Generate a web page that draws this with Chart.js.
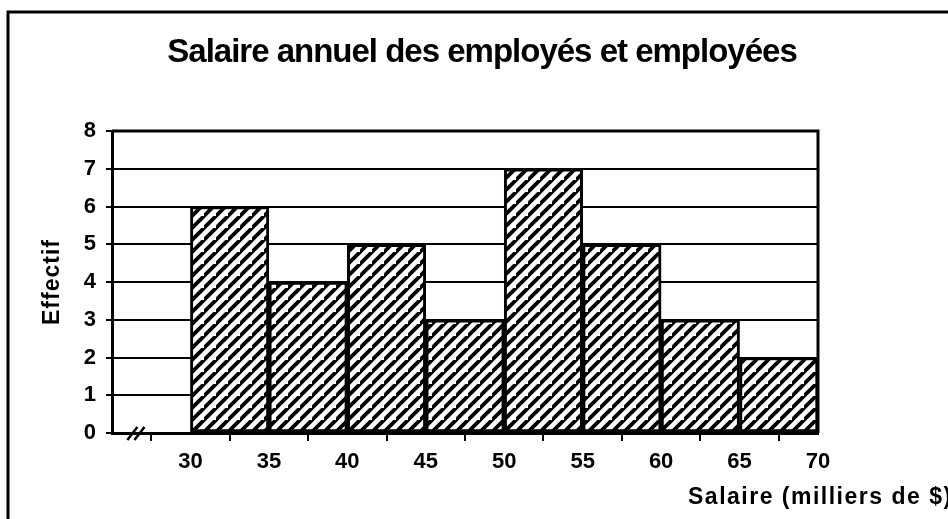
<!DOCTYPE html>
<html>
<head>
<meta charset="utf-8">
<script src="https://cdn.jsdelivr.net/npm/chart.js@4.4.1/dist/chart.umd.min.js"></script>
<style>
  html, body { margin: 0; padding: 0; background: #fff; }
  #wrap { width: 948px; height: 519px; position: relative; }
</style>
</head>
<body>
<div id="wrap"><canvas id="chartSalaire" width="948" height="519"></canvas></div>
<script>
// Données
const titre = 'Salaire annuel des employés et employées';
const titreY = 'Effectif';
const titreX = 'Salaire (milliers de $)';
const classesDebut = [30, 35, 40, 45, 50, 55, 60, 65];
const classesFin = [35, 40, 45, 50, 55, 60, 65, 70];
const effectifs = [6, 4, 5, 3, 7, 5, 3, 2];
const ticksX = [30, 35, 40, 45, 50, 55, 60, 65, 70];

const FONT = 'Liberation Sans, Arial, sans-serif';

// Motif hachuré (diagonales /)
function makeHatch() {
    const s = 12;
    const c = document.createElement('canvas');
    c.width = s; c.height = s;
    const g = c.getContext('2d');
    g.fillStyle = '#fff';
    g.fillRect(0, 0, s, s);
    g.strokeStyle = '#000';
    g.lineWidth = 3.8;
    g.beginPath();
    g.moveTo(-3, s + 3); g.lineTo(s + 3, -3);
    g.moveTo(-3 - s, s + 3); g.lineTo(3, -3);
    g.moveTo(s - 3, 2 * s + 3); g.lineTo(2 * s + 3, s - 3);
    g.stroke();
    return g.createPattern(c, 'repeat');
}

// Titre, cadre, bordure de la zone, coupure d'axe et titres d'axes
const decorPlugin = {
    id: 'decor',
    afterDraw(chart) {
        const ctx = chart.ctx;
        const a = chart.chartArea;
        const x = chart.scales.x;
        ctx.save();
        // cadre extérieur
        ctx.strokeStyle = '#000';
        ctx.lineWidth = 3;
        ctx.beginPath();
        ctx.moveTo(8, 519); ctx.lineTo(8, 12); ctx.lineTo(948, 12);
        ctx.stroke();
        // bordure haut / droite de la zone de tracé
        ctx.beginPath();
        ctx.moveTo(a.left, a.top); ctx.lineTo(a.right, a.top); ctx.lineTo(a.right, a.bottom);
        ctx.stroke();
        // coupure d'axe //
        ctx.lineWidth = 2.5;
        ctx.beginPath();
        [26.3, 26.75].forEach(v => {
            const p = x.getPixelForValue(v);
            ctx.moveTo(p - 5, a.bottom + 7); ctx.lineTo(p + 5, a.bottom - 6);
        });
        ctx.stroke();
        // titre principal
        ctx.fillStyle = '#000';
        ctx.letterSpacing = '-1px';
        ctx.font = 'bold 33px ' + FONT;
        ctx.textAlign = 'center';
        ctx.textBaseline = 'alphabetic';
        ctx.fillText(titre, 482, 62);
        // titres d'axes
        ctx.letterSpacing = '1.5px';
        ctx.font = 'bold 23px ' + FONT;
        ctx.textBaseline = 'middle';
        ctx.textAlign = 'left';
        ctx.fillText(titreX, 688, 498);
        ctx.letterSpacing = '1px';
        ctx.translate(53, 282);
        ctx.rotate(-Math.PI / 2);
        ctx.textAlign = 'center';
        ctx.fillText(titreY, 0, 0);
        ctx.restore();
    }
};

const ctx = document.getElementById('chartSalaire').getContext('2d');
const hatch = makeHatch();

new Chart(ctx, {
    type: 'bar',
    data: {
        datasets: [{
            data: effectifs.map((v, i) => ({ x: (classesDebut[i] + classesFin[i]) / 2, y: v })),
            backgroundColor: hatch,
            borderColor: '#000',
            borderWidth: 3,
            borderSkipped: false,
            barPercentage: 1,
            categoryPercentage: 1
        }]
    },
    options: {
        responsive: false,
        animation: false,
        events: [],
        layout: { padding: { left: 0, right: 130, top: 131, bottom: 0 } },
        plugins: {
            legend: { display: false },
            tooltip: { enabled: false },
            title: { display: false }
        },
        scales: {
            x: {
                type: 'linear',
                offset: false,
                min: 25,
                max: 70,
                afterBuildTicks: (s) => { s.ticks = [25].concat(ticksX).map(v => ({ value: v })); },
                ticks: {
                    color: '#000',
                    font: { family: FONT, size: 22, weight: 'bold' },
                    padding: 8,
                    maxRotation: 0,
                    callback: (v) => v === 25 ? '' : v
                },
                grid: { drawOnChartArea: false, color: '#000', lineWidth: 2, tickLength: 8 },
                border: { color: '#000', width: 3 },
                afterFit: (s) => { s.height = 86; }
            },
            y: {
                min: 0,
                max: 8,
                ticks: {
                    stepSize: 1,
                    color: '#000',
                    font: { family: FONT, size: 22, weight: 'bold' },
                    padding: 10
                },
                grid: { color: '#000', lineWidth: 2, tickLength: 6 },
                border: { color: '#000', width: 3 },
                afterFit: (s) => { s.width = 112; }
            }
        }
    },
    plugins: [decorPlugin]
});
</script>
</body>
</html>
